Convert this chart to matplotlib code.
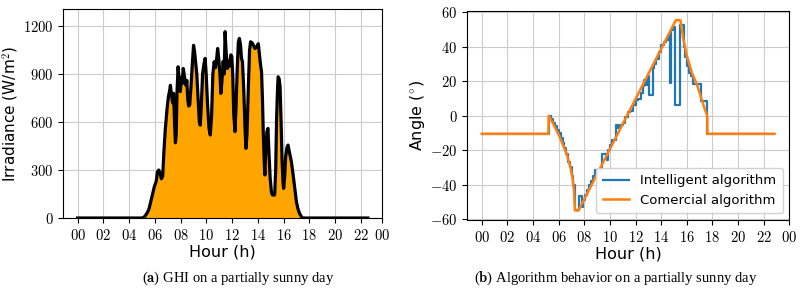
import numpy as np
import matplotlib
matplotlib.use("Agg")
import matplotlib.pyplot as plt

plt.rcParams.update({
    "mathtext.fontset": "cm",
    "font.family": "DejaVu Sans",
    "axes.linewidth": 0.8,
})

# ── GHI on a partially sunny day (hour, W/m2)
ghi_hour = [0, 5.0, 5.15, 5.3, 5.45, 5.55, 5.7, 5.85, 5.95, 6.1, 6.2, 6.3, 6.4, 6.5,
            6.6, 6.7, 6.8, 6.95, 7.05, 7.15, 7.2, 7.3, 7.38, 7.45, 7.52, 7.59, 7.65,
            7.72, 7.8, 7.88, 7.97, 8.05, 8.12, 8.2, 8.3, 8.4, 8.48, 8.55, 8.62, 8.7,
            8.8, 8.9, 9.0, 9.08, 9.18, 9.25, 9.35, 9.45, 9.52, 9.6, 9.7, 9.8, 9.9,
            9.98, 10.08, 10.2, 10.3, 10.4, 10.5, 10.6, 10.7, 10.8, 10.87, 10.95,
            11.05, 11.12, 11.2, 11.3, 11.38, 11.45, 11.52, 11.63, 11.72, 11.8, 11.9,
            11.97, 12.05, 12.12, 12.22, 12.3, 12.4, 12.48, 12.56, 12.65, 12.72, 12.8,
            12.9, 13.0, 13.07, 13.15, 13.25, 13.35, 13.43, 13.55, 13.65, 13.77, 13.9,
            14.03, 14.12, 14.2, 14.28, 14.35, 14.42, 14.5, 14.54, 14.62, 14.7, 14.78,
            14.85, 14.95, 15.05, 15.13, 15.3, 15.38, 15.45, 15.52, 15.57, 15.65,
            15.72, 15.8, 15.88, 15.95, 16.0, 16.08, 16.15, 16.25, 16.34, 16.45, 16.6,
            16.75, 16.9, 16.99, 17.1, 17.24, 17.45, 22.54]
ghi_value = [0, 0, 5, 20, 40, 60, 110, 160, 195, 230, 290, 300, 280, 245,
             260, 420, 550, 690, 760, 800, 830, 760, 720, 780, 600, 470, 520,
             800, 946, 860, 790, 880, 840, 935, 880, 830, 860, 740, 700, 706,
             820, 960, 1080, 1040, 956, 900, 750, 600, 580, 700, 900, 960, 998,
             900, 720, 560, 519, 640, 900, 977, 940, 1000, 1060, 1000,
             900, 779, 850, 980, 900, 1165, 1050, 935, 980, 950, 1020,
             1010, 880, 650, 540, 700, 950, 1100, 1123, 1080, 1000, 977,
             800, 560, 435, 520, 800, 1050, 1102, 1095, 1080, 1060, 1070,
             1090, 1020, 960, 915, 750, 520, 330, 269, 450, 540, 560,
             420, 250, 160, 144, 144, 300, 620, 800, 883, 870,
             820, 600, 350, 220, 185, 260, 380, 440, 456, 410, 352,
             260, 160, 102, 60, 27, 0, 0]

# ── Commercial algorithm (hour, angle in degrees)
com_hour = [0, 5.2, 5.22, 5.6, 6.0, 6.4, 6.7, 6.95, 7.1, 7.2, 7.27, 7.55, 15.15,
            15.5, 15.75, 16.0, 16.4, 16.8, 17.1, 17.4, 17.6, 17.62, 22.85]
com_angle = [-10.5, -10.5, 0, -5, -11, -18, -24, -31, -37, -44, -55, -55, 55.5,
             55.5, 44, 35, 25, 18, 11, 4, 0, -10.5, -10.5]

# ── Intelligent algorithm (hour, angle), held between samples
int_hour = [0, 5.22, 5.4, 5.55, 5.7, 5.85, 6.0, 6.15, 6.3, 6.45, 6.6, 6.75, 6.9,
            7.05, 7.15, 7.25, 7.57, 7.8, 7.9, 8.05, 8.2, 8.35, 8.5, 8.65, 8.85,
            9.35, 9.8, 9.87, 10.0, 10.2, 10.44, 10.6, 10.8, 11.0, 11.2, 11.4, 11.6,
            11.8, 12.0, 12.2, 12.4, 12.55, 12.7, 12.85, 12.95, 13.05, 13.35, 13.45,
            13.6, 13.8, 14.0, 14.2, 14.35, 14.5, 14.7, 14.8, 14.9, 15.08, 15.5,
            15.8, 15.9, 16.0, 16.15, 16.3, 16.45, 17.15, 17.55, 17.62, 22.85]
int_angle = [-10.5, 0, -2, -4, -6, -8, -10, -13, -16, -19, -22, -27, -30,
             -35, -40, -55, -46.5, -53, -49, -46, -43, -40, -38, -35, -31.5,
             -22, -26, -20, -17, -14, -5.5, -7, -5.5, -4, -1, 2, 3,
             6, 9, 10, 13, 17, 21, 18, 23, 12, 28, 30,
             33, 37, 41, 43, 44, 47, 19, 50, 51.5, 6, 52.5,
             40, 34, 29, 25, 23, 18.7, 8.5, 0, -10.5, -10.5]

tick_hours = list(range(0, 24, 2))


def hour_axis(ax, right):
    ax.set_xlim(-0.05 * right / 1.05, right)
    ax.set_xticks(tick_hours + [right])
    ax.set_xticklabels([f"${h:02d}$" for h in tick_hours] + ["$00$"], fontsize=10.5)
    ax.set_xlabel("Hour (h)", fontsize=11.5, labelpad=1)
    ax.grid(True, color="#cccccc", linewidth=0.8)
    ax.set_axisbelow(True)


fig = plt.figure(figsize=(8, 2.95), dpi=100)

# (a) GHI
ax1 = fig.add_axes([0.079, 0.261, 0.399, 0.708])
ax1.fill_between(ghi_hour, ghi_value, color="#FFA500", linewidth=0)
ax1.plot(ghi_hour, ghi_value, color="black", linewidth=2.3, solid_joinstyle="round")
hour_axis(ax1, 23.67)
ax1.set_ylim(0, 1306)
ax1.set_yticks([0, 300, 600, 900, 1200])
ax1.set_yticklabels([f"${v}$" for v in [0, 300, 600, 900, 1200]], fontsize=10.5)
ax1.set_ylabel("Irradiance (W/m$^2$)", fontsize=11, labelpad=1)

# (b) algorithm behaviour
ax2 = fig.add_axes([0.584, 0.254, 0.4025, 0.708])
ax2.plot(int_hour, int_angle, color="#1f77b4", linewidth=1.6, drawstyle="steps-post",
         label="Intelligent algorithm")
ax2.plot(com_hour, com_angle, color="#ff7f0e", linewidth=1.8,
         label="Comercial algorithm")
hour_axis(ax2, 24.0)
ax2.set_ylim(-60.6, 60.7)
yt = [-60, -40, -20, 0, 20, 40, 60]
ax2.set_yticks(yt)
ax2.set_yticklabels([f"${v}$" for v in yt], fontsize=10.5)
ax2.set_ylabel(r"Angle ($^{\circ}$)", fontsize=11.5, labelpad=2)
ax2.legend(loc="lower right", fontsize=9.5, framealpha=0.9, handlelength=2.0,
           borderpad=0.5, labelspacing=0.5)

# captions
fig.text(0.298, 0.058, r"($\mathbf{a}$) GHI on a partially sunny day",
         ha="center", va="center", fontsize=10.5, family="Liberation Serif")
fig.text(0.77, 0.058, r"($\mathbf{b}$) Algorithm behavior on a partially sunny day",
         ha="center", va="center", fontsize=10.5, family="Liberation Serif")

fig.savefig("out.png", dpi=100)
